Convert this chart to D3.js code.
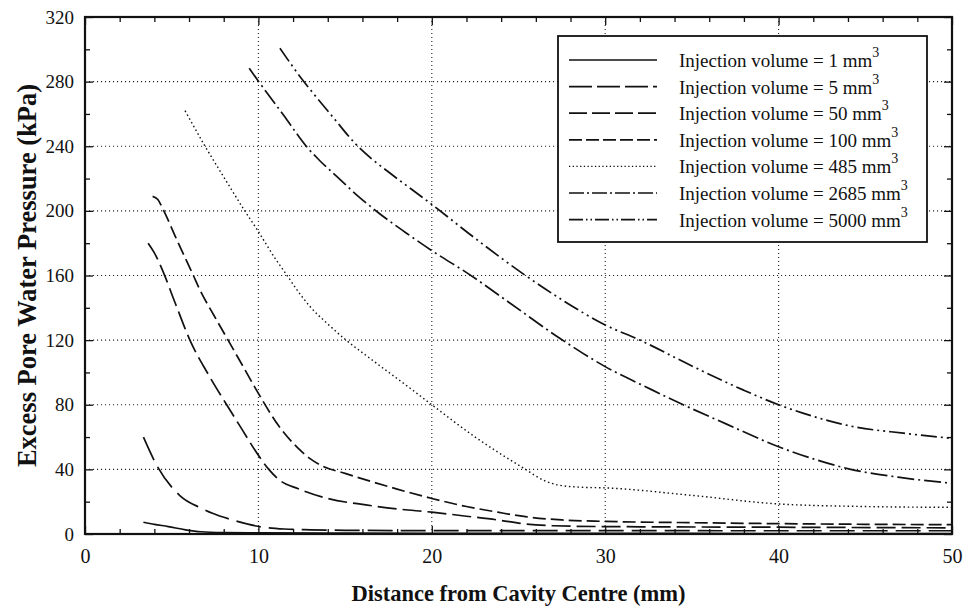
<!DOCTYPE html>
<html>
<head>
<meta charset="utf-8">
<script src="https://cdn.jsdelivr.net/npm/d3@7"></script>
<style>
  html, body { margin: 0; padding: 0; background: #fff; }
  svg { display: block; }
  text { font-family: "Liberation Serif", "Times New Roman", Times, serif; fill: #111; }
</style>
</head>
<body>
<svg id="chart" width="965" height="608"></svg>
<script>
// Excess pore water pressure vs distance from cavity centre, per injection volume
const volumes = ["1", "5", "50", "100", "485", "2685", "5000"];

// [distance (mm), excess pore pressure (kPa)]
const v1 = [[3.37,7.3],[4,6],[4.8,4.6],[5.8,2.6],[6.7,1.4],[8,0.9],[10,0.7],[15,0.5],[20,0.4],[30,0.4],[40,0.3],[50,0.3]];
const v5 = [[3.37,60],[4.18,41.7],[5.5,23.5],[6.7,16],[7.35,12.8],[8.5,8.7],[9.95,4.8],[11.5,3.1],[13,2.6],[15,2.3],[20,2.1],[30,2.1],[40,2],[50,2]];
const v50 = [[3.64,180],[4,174],[4.46,163.5],[5.2,143],[6.05,120],[7.1,99],[8.17,80],[9.1,64],[9.95,49.5],[10.6,40],[11.2,33.5],[12.3,28],[14,22],[16.2,18],[18,15.5],[20,13.5],[22,11],[23.8,8.7],[25.4,6.2],[27,5.1],[30,4.6],[40,4.2],[50,3.8]];
const v100 = [[3.9,209],[4.2,207],[4.5,201],[5.3,182],[6.25,160],[6.63,151],[7.4,136],[8.25,120],[9.1,104],[10,87],[11.2,66.5],[12.3,53],[13,46.5],[13.7,42],[15,37.5],[16.2,33.5],[18,27.8],[20,22],[22,17],[23.8,13.5],[25.4,10.7],[27.5,8.7],[30,7.8],[35,7],[40,6.4],[45,6],[50,5.8]];
const v485 = [[5.77,262],[6.87,241],[8,221],[9.18,200.6],[9.95,188],[11,170],[11.63,160.4],[12.2,151.5],[13,140.5],[14,130],[15,120.5],[16.4,109],[18.9,89],[20,80],[22.5,60],[25.3,40.7],[26.5,33],[27.3,30.3],[28.5,29],[30.1,28.5],[35,23.9],[40,18.6],[45,17],[50,16.5]];
const v2685 = [[9.47,288.3],[9.95,281],[10.5,273],[11.5,258.5],[12.3,246.5],[12.8,239.5],[13.5,231.5],[14.5,221.5],[15.76,209],[16.9,199],[18.5,186.5],[20,175.4],[22.2,160.4],[24.5,143],[27.4,121],[30,103.6],[32.7,89.2],[34.5,80],[37,68],[40,54],[42,46.5],[44.1,40.2],[47,35],[50,31.4]];
const v5000 = [[11.24,300.7],[12.55,281],[13.03,274.5],[14.3,258],[15.6,241.5],[16.5,232.5],[17.45,224.5],[20,204],[22.5,183],[25.35,160.4],[27.5,145],[30,129.4],[32,120],[35,104],[37.95,89.2],[40,80],[41.4,74.8],[44.3,66.5],[47.2,62.4],[50,59.2]];

const xTicks = [0, 10, 20, 30, 40, 50];
const xMinor = [2, 4, 6, 8, 12, 14, 16, 18, 22, 24, 26, 28, 32, 34, 36, 38, 42, 44, 46, 48];
const yTicks = [0, 40, 80, 120, 160, 200, 240, 280, 320];
const yMinor = [20, 60, 100, 140, 180, 220, 260, 300];

const xTitle = "Distance from Cavity Centre (mm)";
const yTitle = "Excess Pore Water Pressure (kPa)";

const seriesData = [v1, v5, v50, v100, v485, v2685, v5000];
const dashes = [null, "25,8", "19,6", "13,5", "1.5,2.8", "17,4,2,4", "16,4,2,4,2,4"];
const legendDashes = [null, "23,5", "18,5", "13,4", "1.3,2.4", "15,3,2,3", "14,3,1.5,3,1.5,3"];

const svg = d3.select("#chart");
const plotL = 85, plotR = 952, plotT = 17, plotB = 534;

const x = d3.scaleLinear().domain([0, 50]).range([plotL, plotR]);
const y = d3.scaleLinear().domain([0, 320]).range([plotB, plotT]);

// dotted grid at the major ticks
const grid = svg.append("g").attr("stroke", "#222").attr("stroke-width", 1.1).attr("stroke-dasharray", "1.1,2.9");
grid.selectAll("line.gx").data(xTicks.slice(1, -1)).join("line")
  .attr("x1", d => x(d)).attr("x2", d => x(d)).attr("y1", plotT).attr("y2", plotB);
grid.selectAll("line.gy").data(yTicks.slice(1, -1)).join("line")
  .attr("x1", plotL).attr("x2", plotR).attr("y1", d => y(d)).attr("y2", d => y(d));

// axes: inward ticks on all four sides
function styleAxis(g) {
  g.select(".domain").remove();
  g.selectAll(".tick line").attr("stroke", "#111").attr("stroke-width", 1.3);
}
const major = 8, minor = 5;
svg.append("g").attr("transform", `translate(0,${plotB})`)
  .call(d3.axisBottom(x).tickValues(xTicks).tickSize(-major).tickPadding(15).tickFormat(d3.format("d")))
  .call(styleAxis)
  .call(g => g.selectAll("text").attr("font-size", 20).attr("font-family", "Liberation Serif").attr("fill", "#111"));
svg.append("g").attr("transform", `translate(0,${plotB})`)
  .call(d3.axisBottom(x).tickValues(xMinor).tickSize(-minor).tickFormat("")).call(styleAxis);
svg.append("g").attr("transform", `translate(0,${plotT})`)
  .call(d3.axisTop(x).tickValues(xTicks).tickSize(-major).tickFormat("")).call(styleAxis);
svg.append("g").attr("transform", `translate(0,${plotT})`)
  .call(d3.axisTop(x).tickValues(xMinor).tickSize(-minor).tickFormat("")).call(styleAxis);

svg.append("g").attr("transform", `translate(${plotL},0)`)
  .call(d3.axisLeft(y).tickValues(yTicks).tickSize(-major).tickPadding(11).tickFormat(d3.format("d")))
  .call(styleAxis)
  .call(g => g.selectAll("text").attr("font-size", 19).attr("font-family", "Liberation Serif").attr("fill", "#111"));
svg.append("g").attr("transform", `translate(${plotL},0)`)
  .call(d3.axisLeft(y).tickValues(yMinor).tickSize(-minor).tickFormat("")).call(styleAxis);
svg.append("g").attr("transform", `translate(${plotR},0)`)
  .call(d3.axisRight(y).tickValues(yTicks).tickSize(-major).tickFormat("")).call(styleAxis);
svg.append("g").attr("transform", `translate(${plotR},0)`)
  .call(d3.axisRight(y).tickValues(yMinor).tickSize(-minor).tickFormat("")).call(styleAxis);

// curves
const line = d3.line().x(d => x(d[0])).y(d => y(d[1])).curve(d3.curveMonotoneX);
svg.append("g").selectAll("path").data(seriesData).join("path")
  .attr("d", line)
  .attr("fill", "none")
  .attr("stroke", "#111")
  .attr("stroke-width", (d, i) => i === 4 ? 1.4 : 1.7)
  .attr("stroke-dasharray", (d, i) => dashes[i]);

// frame
svg.append("rect").attr("x", plotL).attr("y", plotT).attr("width", plotR - plotL).attr("height", plotB - plotT)
  .attr("fill", "none").attr("stroke", "#111").attr("stroke-width", 2.2);

// legend
const lg = svg.append("g");
lg.append("rect").attr("x", 558).attr("y", 36).attr("width", 369).attr("height", 206)
  .attr("fill", "#fff").attr("stroke", "#111").attr("stroke-width", 1.8);
const rowY = i => 67 + i * 26.6;
lg.selectAll("line").data(volumes).join("line")
  .attr("x1", 569).attr("x2", 657)
  .attr("y1", (d, i) => rowY(i) - 7).attr("y2", (d, i) => rowY(i) - 7)
  .attr("stroke", "#111").attr("stroke-width", (d, i) => i === 4 ? 1.3 : 1.7)
  .attr("stroke-dasharray", (d, i) => legendDashes[i]);
const lt = lg.selectAll("text").data(volumes).join("text")
  .attr("x", 679).attr("y", (d, i) => rowY(i)).attr("font-size", 19);
lt.append("tspan").text(d => `Injection volume = ${d} mm`);
lt.append("tspan").attr("dy", -10).attr("font-size", 14).text("3");

// axis titles
svg.append("text").attr("x", (plotL + plotR) / 2).attr("y", 601)
  .attr("text-anchor", "middle").attr("font-weight", "bold").attr("font-size", 22.5)
  .text(xTitle);
svg.append("text").attr("transform", `translate(36,${(plotT + plotB) / 2}) rotate(-90)`)
  .attr("text-anchor", "middle").attr("font-weight", "bold").attr("font-size", 26.5)
  .text(yTitle);
</script>
</body>
</html>
